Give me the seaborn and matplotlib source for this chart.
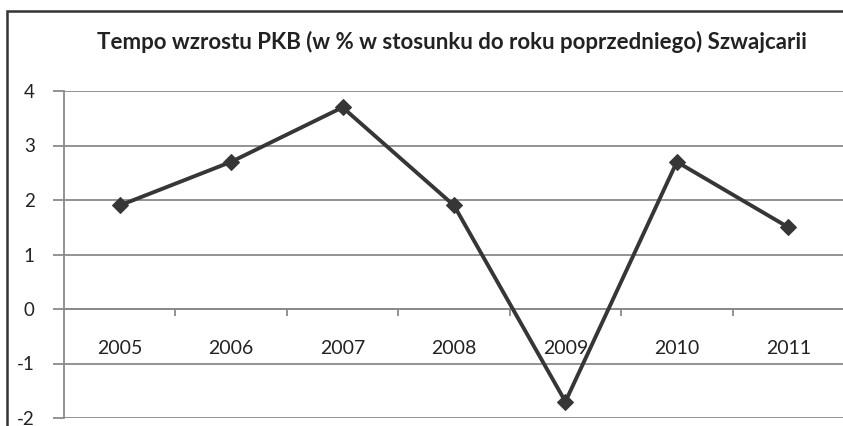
import matplotlib
matplotlib.use("Agg")
import matplotlib.pyplot as plt
from matplotlib.patches import Rectangle
import seaborn as sns
import pandas as pd

title = "Tempo wzrostu PKB (w % w stosunku do roku poprzedniego) Szwajcarii"
years = ["2005", "2006", "2007", "2008", "2009", "2010", "2011"]
growth = [1.9, 2.7, 3.7, 1.9, -1.7, 2.7, 1.5]
y_ticks = [-2, -1, 0, 1, 2, 3, 4]

sns.set_theme(style="white")
plt.rcParams['font.family'] = ['Lato', 'DejaVu Sans']

df = pd.DataFrame({"year": years, "growth": growth})

W, H = 843, 426
fig = plt.figure(figsize=(W / 100, H / 100), dpi=100)
ax = fig.add_axes([64 / W, (H - 418) / H, 780 / W, (418 - 91) / H])

grid_c = "#8a8a8a"
for v in y_ticks:
    ax.axhline(v, color=grid_c, lw=1.3, zorder=1)

sns.lineplot(data=df, x="year", y="growth", ax=ax, color="#363636", lw=2.8,
             marker="D", markersize=8.5, markeredgecolor="#363636", zorder=3,
             sort=False)

ax.set_xlim(-0.5, 6.5)
ax.set_ylim(-2, 4)
ax.set_yticks(y_ticks)
ax.set_yticklabels([str(v) for v in y_ticks], fontsize=13.5, color="#222222")
ax.set_xlabel("")
ax.set_ylabel("")

for s in ["top", "right"]:
    ax.spines[s].set_visible(False)
ax.spines["left"].set_color(grid_c)
ax.spines["left"].set_linewidth(1.3)
ax.spines["bottom"].set_position(("data", 0))
ax.spines["bottom"].set_color(grid_c)
ax.spines["bottom"].set_linewidth(1.3)

ax.tick_params(axis="y", which="major", length=8, width=1.3, color=grid_c,
               direction="out", pad=13, left=True)
ax.set_xticks(range(len(years)))
ax.set_xticklabels(years, fontsize=14, color="#222222")
ax.tick_params(axis="x", which="major", length=0, pad=22, bottom=True)
ax.set_xticks([i + 0.5 for i in range(len(years) - 1)], minor=True)
ax.tick_params(axis="x", which="minor", length=5, width=1.3, color=grid_c,
               direction="out", bottom=True)

fig.text(452 / W, 1 - 42 / H, title, ha="center", va="center",
         fontsize=16, fontweight="bold", color="#222222")

fig.patches.append(Rectangle((7 / W, -0.2), 1.2, 1.2 - 11 / H,
                             transform=fig.transFigure, fill=False,
                             edgecolor="#333333", lw=1.8))

fig.savefig("out.png", dpi=100)
